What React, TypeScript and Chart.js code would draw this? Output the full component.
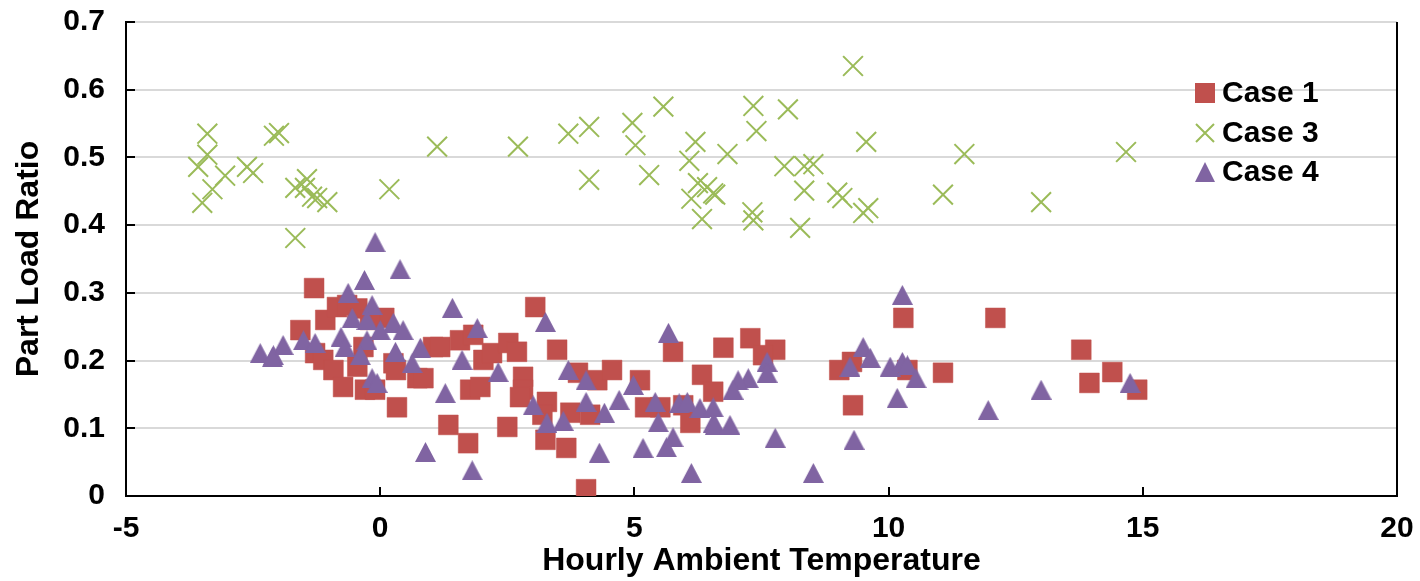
import React, { useEffect, useRef } from "react";
import { Chart, registerables } from "chart.js";

Chart.register(...registerables);

const seriesNames = ["Case 1", "Case 3", "Case 4"];
const seriesColors = ["#C0504D", "#9BBB59", "#8064A2"];

const xTicks = [-5, 0, 5, 10, 15, 20];
const yTicks = [0, 0.1, 0.2, 0.3, 0.4, 0.5, 0.6, 0.7];

const xTitle = "Hourly Ambient Temperature";
const yTitle = "Part Load Ratio";

const case1: [number, number][] = [
  [-1.30, 0.307], [-1.08, 0.260], [-0.85, 0.279], [-0.65, 0.282], [-0.45, 0.277],
  [-1.57, 0.245], [0.08, 0.263], [-0.20, 0.260], [-1.28, 0.211], [-1.12, 0.201],
  [-0.92, 0.186], [-0.73, 0.161], [-0.30, 0.157], [-0.10, 0.157], [-0.45, 0.191],
  [-0.33, 0.220], [0.26, 0.196], [0.31, 0.186], [0.73, 0.174], [0.85, 0.174],
  [1.04, 0.220], [1.18, 0.220], [1.57, 0.230], [1.83, 0.238], [2.03, 0.201],
  [1.77, 0.157], [1.97, 0.161], [0.33, 0.131], [1.34, 0.105], [1.73, 0.078],
  [3.05, 0.279], [3.48, 0.216], [2.50, 0.102], [3.25, 0.083], [3.66, 0.071],
  [4.05, 0.010], [2.20, 0.211], [2.52, 0.226], [2.69, 0.213], [2.81, 0.176],
  [2.81, 0.157], [2.75, 0.146], [3.28, 0.139], [3.19, 0.120], [3.89, 0.182],
  [4.27, 0.171], [4.56, 0.186], [3.74, 0.123], [4.13, 0.120], [5.11, 0.171],
  [5.21, 0.131], [5.76, 0.213], [5.51, 0.131], [5.96, 0.134], [6.10, 0.108],
  [6.33, 0.179], [6.75, 0.219], [7.28, 0.233], [7.77, 0.216], [7.53, 0.208],
  [6.55, 0.154], [10.29, 0.263], [9.03, 0.186], [9.28, 0.198], [9.30, 0.134],
  [10.37, 0.186], [11.07, 0.182], [12.10, 0.263], [13.79, 0.216], [13.95, 0.167],
  [14.40, 0.183], [14.89, 0.157],
];

const case3: [number, number][] = [
  [-3.58, 0.486], [-3.40, 0.535], [-3.40, 0.504], [-3.50, 0.433], [-3.30, 0.453],
  [-3.05, 0.473], [-2.62, 0.486], [-2.50, 0.477], [-2.09, 0.532], [-1.99, 0.536],
  [-1.67, 0.455], [-1.44, 0.468], [-1.48, 0.455], [-1.34, 0.442], [-1.24, 0.440],
  [-1.04, 0.434], [-1.67, 0.381], [0.18, 0.453], [1.12, 0.516], [2.71, 0.516],
  [3.70, 0.535], [4.11, 0.545], [4.11, 0.467], [4.96, 0.551], [5.02, 0.518],
  [5.29, 0.474], [5.57, 0.575], [6.20, 0.523], [6.08, 0.495], [6.83, 0.505],
  [6.25, 0.462], [6.43, 0.456], [6.55, 0.447], [6.12, 0.439], [6.59, 0.445],
  [6.33, 0.409], [7.34, 0.576], [7.40, 0.539], [8.02, 0.571], [7.32, 0.419],
  [7.34, 0.407], [7.95, 0.487], [8.34, 0.487], [8.52, 0.490], [8.34, 0.451],
  [8.26, 0.396], [9.30, 0.635], [9.56, 0.523], [8.99, 0.448], [9.09, 0.440],
  [9.50, 0.418], [9.60, 0.425], [11.49, 0.505], [11.07, 0.445], [13.0, 0.434],
  [14.67, 0.508],
];

const case4: [number, number][] = [
  [-0.10, 0.375], [0.39, 0.335], [-0.31, 0.319], [-0.63, 0.300], [-0.16, 0.282],
  [-0.55, 0.263], [-0.26, 0.260], [0.26, 0.256], [0.45, 0.245], [0.00, 0.245],
  [-0.77, 0.235], [-0.26, 0.230], [-0.69, 0.220], [-1.51, 0.230], [-1.28, 0.226],
  [-1.91, 0.223], [-2.10, 0.208], [-2.36, 0.211], [-2.12, 0.205], [-0.39, 0.208],
  [0.30, 0.213], [0.79, 0.219], [0.63, 0.196], [1.42, 0.278], [1.91, 0.248],
  [1.61, 0.201], [-0.16, 0.174], [-0.06, 0.167], [1.28, 0.152], [0.89, 0.065],
  [1.81, 0.038], [3.25, 0.257], [5.67, 0.241], [2.32, 0.183], [3.70, 0.186],
  [4.05, 0.171], [3.01, 0.134], [3.28, 0.108], [3.60, 0.111], [4.05, 0.139],
  [4.41, 0.123], [4.70, 0.142], [4.98, 0.164], [4.31, 0.064], [5.41, 0.139],
  [5.47, 0.109], [5.17, 0.071], [5.63, 0.072], [5.76, 0.087], [5.88, 0.137],
  [6.04, 0.139], [6.29, 0.130], [6.55, 0.131], [6.55, 0.108], [6.12, 0.034],
  [10.27, 0.297], [9.50, 0.220], [9.64, 0.204], [9.24, 0.191], [10.03, 0.191],
  [10.27, 0.198], [10.37, 0.193], [10.54, 0.174], [10.17, 0.145], [9.32, 0.083],
  [8.52, 0.034], [7.77, 0.086], [7.61, 0.198], [7.61, 0.182], [7.24, 0.174],
  [7.04, 0.171], [6.94, 0.157], [6.59, 0.105], [6.88, 0.105], [11.96, 0.127],
  [13.0, 0.157], [14.75, 0.167],
];

const FONT = "'Liberation Sans', Arial, Helvetica, sans-serif";

function makeTriangle(color: string): HTMLCanvasElement {
  const c = document.createElement("canvas");
  c.width = 21;
  c.height = 20;
  const g = c.getContext("2d")!;
  g.fillStyle = color;
  g.beginPath();
  g.moveTo(10.5, 0);
  g.lineTo(21, 20);
  g.lineTo(0, 20);
  g.closePath();
  g.fill();
  return c;
}

const framePlugin = {
  id: "frameAndLegend",
  afterDraw(chart: any) {
    const { ctx, chartArea, scales } = chart;
    const { left, right, top, bottom } = chartArea;
    ctx.save();
    ctx.strokeStyle = "#000";
    ctx.lineWidth = 2;
    ctx.beginPath();
    ctx.moveTo(right, top);
    ctx.lineTo(right, bottom + 1);
    yTicks.forEach((v) => {
      const y = Math.round(scales.y.getPixelForValue(v));
      ctx.moveTo(left, y);
      ctx.lineTo(left + 9, y);
    });
    xTicks.forEach((v) => {
      const x = Math.round(scales.x.getPixelForValue(v));
      ctx.moveTo(x, bottom);
      ctx.lineTo(x, bottom - 9);
    });
    ctx.stroke();

    const lx = 1205;
    const ly = [93, 133, 172];
    ctx.font = `bold 30px ${FONT}`;
    ctx.textBaseline = "middle";
    ctx.textAlign = "left";
    seriesNames.forEach((name, i) => {
      const y = ly[i];
      const col = seriesColors[i];
      if (i === 0) {
        ctx.fillStyle = col;
        ctx.fillRect(lx - 10, y - 10, 20, 20);
      } else if (i === 1) {
        ctx.strokeStyle = col;
        ctx.lineWidth = 2;
        ctx.beginPath();
        ctx.moveTo(lx - 9, y - 9);
        ctx.lineTo(lx + 9, y + 9);
        ctx.moveTo(lx + 9, y - 9);
        ctx.lineTo(lx - 9, y + 9);
        ctx.stroke();
      } else {
        ctx.fillStyle = col;
        ctx.beginPath();
        ctx.moveTo(lx, y - 10);
        ctx.lineTo(lx + 10, y + 10);
        ctx.lineTo(lx - 10, y + 10);
        ctx.closePath();
        ctx.fill();
      }
      ctx.fillStyle = "#000";
      ctx.fillText(name, lx + 17, y + 1);
    });
    ctx.restore();
  },
};

export default function App() {
  const ref = useRef<HTMLCanvasElement | null>(null);

  useEffect(() => {
    if (!ref.current) return;
    const tri = makeTriangle(seriesColors[2]);
    const toPts = (arr: [number, number][]) => arr.map(([x, y]) => ({ x, y }));
    const chart = new Chart(ref.current, {
      type: "scatter",
      data: {
        datasets: [
          {
            label: seriesNames[0],
            data: toPts(case1),
            pointStyle: "rect",
            pointRadius: 14,
            backgroundColor: seriesColors[0],
            borderColor: seriesColors[0],
            borderWidth: 0.5,
            order: 2,
          },
          {
            label: seriesNames[1],
            data: toPts(case3),
            pointStyle: "crossRot",
            pointRadius: 14,
            backgroundColor: seriesColors[1],
            borderColor: seriesColors[1],
            borderWidth: 2,
            order: 1,
          },
          {
            label: seriesNames[2],
            data: toPts(case4),
            pointStyle: tri as any,
            pointRadius: 11,
            backgroundColor: seriesColors[2],
            borderColor: seriesColors[2],
            order: 0,
          },
        ],
      },
      options: {
        animation: false,
        responsive: true,
        maintainAspectRatio: false,
        layout: { padding: { top: 22, right: 23, left: 0, bottom: 0 } },
        plugins: {
          legend: { display: false },
          tooltip: { enabled: false },
        },
        scales: {
          x: {
            type: "linear",
            min: -5,
            max: 20,
            afterBuildTicks: (s: any) => {
              s.ticks = xTicks.map((v) => ({ value: v }));
            },
            afterFit: (s: any) => {
              s.height = 85;
              s.paddingLeft = 0;
              s.paddingRight = 0;
            },
            ticks: {
              color: "#000",
              font: { family: FONT, size: 30, weight: "bold" },
              padding: 15,
              maxRotation: 0,
              callback: (v: any) => String(v),
            },
            grid: { display: false, drawTicks: false },
            border: { display: true, color: "#000", width: 2 },
            title: {
              display: true,
              text: xTitle,
              color: "#000",
              font: { family: FONT, size: 32, weight: "bold" },
              padding: { top: 0, bottom: 1 },
            },
          },
          y: {
            type: "linear",
            min: 0,
            max: 0.7,
            afterBuildTicks: (s: any) => {
              s.ticks = yTicks.map((v) => ({ value: v }));
            },
            afterFit: (s: any) => {
              s.width = 126;
              s.paddingTop = 0;
              s.paddingBottom = 0;
            },
            ticks: {
              color: "#000",
              font: { family: FONT, size: 30, weight: "bold" },
              padding: 21,
              callback: (v: any) => (Number(v) === 0 ? "0" : Number(v).toFixed(1)),
            },
            grid: { display: true, color: "#D9D9D9", lineWidth: 2, drawTicks: false },
            border: { display: true, color: "#000", width: 2 },
            title: {
              display: true,
              text: yTitle,
              color: "#000",
              font: { family: FONT, size: 32, weight: "bold" },
              padding: { top: 10, bottom: 0 },
            },
          },
        },
      },
      plugins: [framePlugin],
    });
    return () => chart.destroy();
  }, []);

  return (
    <div style={{ position: "absolute", left: 0, top: 0, width: 1420, height: 581, background: "#fff" }}>
      <canvas ref={ref} />
    </div>
  );
}
